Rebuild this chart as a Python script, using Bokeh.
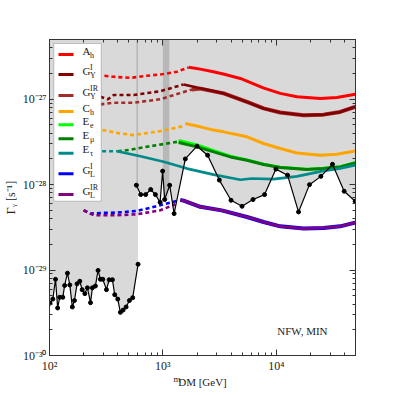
import numpy as np
from bokeh.plotting import figure
from bokeh.models import (LogAxis, LogTicker, CustomJSTickFormatter, Label, LabelSet,
                          BoxAnnotation, ColumnDataSource, Range1d)
from bokeh.embed import file_html
from bokeh.resources import INLINE

X_RANGE = (100, 5e4)
Y_RANGE = (1e-30, 5e-27)

# ---- observed limit (black points), two segments ----
limit_lo_m = [101, 107, 113, 118, 123, 131, 136, 144, 151, 159, 166, 175, 185, 194, 205, 216,
              230, 239, 254, 268, 281, 295, 318, 336, 359, 376, 400, 422, 446, 474, 507, 542, 604]
limit_lo_g = [4.1e-30, 4.57e-30, 7.8e-30, 3.6e-30, 4.8e-30, 4.8e-30, 6.6e-30, 9.2e-30, 6.7e-30,
              3.7e-30, 4.4e-30, 6.9e-30, 7.4e-30, 5.9e-30, 5.3e-30, 6.2e-30, 4.15e-30, 6.2e-30,
              6.5e-30, 9.9e-30, 7.8e-30, 7.8e-30, 5.9e-30, 7.7e-30, 7.7e-30, 5.15e-30, 4.57e-30,
              3.2e-30, 3.4e-30, 3.7e-30, 4.4e-30, 4.75e-30, 1.17e-29]
limit_hi_m = [584, 637, 705, 781, 859, 945, 995, 1037, 1148, 1256, 1578, 2000, 2481, 3148, 3991,
              4990, 6237, 7890, 9935, 12580, 15720, 19640, 24750, 31330, 39720, 49660]
limit_hi_g = [9.85e-29, 7.65e-29, 7.65e-29, 8.77e-29, 7.65e-29, 6.22e-29, 1.44e-28, 6.69e-29,
              9.85e-29, 4.58e-29, 2.0e-28, 2.82e-28, 2.21e-28, 1.13e-28, 6.56e-29, 5.58e-29,
              6.69e-29, 7.65e-29, 1.52e-28, 1.29e-28, 4.79e-29, 1.0e-28, 1.25e-28, 1.73e-28,
              8.37e-29, 6.39e-29]
# overlap band of the shaded region
band_m = [1000, 1140]
band_bottom = 6.7e-29

# ---- model lines: dotted (low mass) and solid parts ----
Ah_dot_m = [305, 366, 517, 727, 1016, 1333, 1690]
Ah_dot_g = [1.88e-27, 1.83e-27, 1.78e-27, 1.88e-27, 1.97e-27, 2.10e-27, 2.36e-27]
Ah_m = [1690, 2138, 2786, 3413, 4821, 5518, 7681, 10840, 15210, 24430, 34280, 49660]
Ah_g = [2.36e-27, 2.25e-27, 2.10e-27, 1.97e-27, 1.75e-27, 1.63e-27, 1.36e-27, 1.17e-27,
        1.07e-27, 1.02e-27, 1.05e-27, 1.14e-27]

GYI_dot_m = [281, 326, 369, 553, 950, 1524]
GYI_dot_g = [1.07e-27, 9.95e-28, 1.12e-27, 1.12e-27, 1.24e-27, 1.49e-27]
GYI_m = [1524, 2138, 3436, 5518, 7730, 10840, 17400, 26100, 36600, 49660]
GYI_g = [1.49e-27, 1.34e-27, 1.17e-27, 9.3e-28, 7.8e-28, 7.0e-28, 6.5e-28, 6.6e-28, 7.1e-28, 8.15e-28]

GYIR_dot_m = [281, 369, 553, 950, 1807]
GYIR_dot_g = [8.7e-28, 9.1e-28, 9.1e-28, 1.0e-27, 1.30e-27]
GYIR_m = [1807, 2138, 3436, 5518, 7730, 10840, 17400, 26100, 36600, 49660]
GYIR_g = [1.30e-27, 1.33e-27, 1.17e-27, 9.3e-28, 7.8e-28, 7.0e-28, 6.5e-28, 6.6e-28, 7.1e-28, 8.15e-28]

Ch_dot_m = [293, 405, 550, 950, 1516]
Ch_dot_g = [4.35e-28, 4.01e-28, 3.80e-28, 4.23e-28, 4.84e-28]
Ch_m = [1578, 2138, 2803, 3434, 5518, 7730, 10840, 15210, 24430, 34280, 49660]
Ch_g = [5.2e-28, 4.75e-28, 4.35e-28, 4.15e-28, 3.63e-28, 3.03e-28, 2.65e-28, 2.35e-28,
        2.21e-28, 2.27e-28, 2.48e-28]

Ee_m = [1377, 2000, 2803, 3935, 5518, 7730, 10840, 18640, 26100, 36600, 49660]
Ee_g = [3.3e-28, 2.92e-28, 2.5e-28, 2.15e-28, 1.95e-28, 1.73e-28, 1.6e-28, 1.51e-28,
        1.56e-28, 1.62e-28, 1.81e-28]

Emu_dot_m = [400, 500, 776, 1333]
Emu_dot_g = [2.45e-28, 2.55e-28, 2.82e-28, 3.17e-28]
Emu_m = [1377, 2000, 2803, 3935, 5518, 7730, 10840, 18640, 26100, 36600, 49660]
Emu_g = [3.12e-28, 2.77e-28, 2.42e-28, 2.11e-28, 1.93e-28, 1.72e-28, 1.59e-28, 1.50e-28,
         1.55e-28, 1.61e-28, 1.80e-28]

Etau_dot_m = [291, 395]
Etau_dot_g = [2.46e-28, 2.46e-28]
Etau_m = [395, 634, 1016, 1633, 2803, 4821, 6110, 9460, 15210, 26100, 36600, 49660]
Etau_g = [2.46e-28, 2.15e-28, 1.85e-28, 1.54e-28, 1.31e-28, 1.14e-28, 1.18e-28, 1.16e-28,
          1.25e-28, 1.45e-28, 1.55e-28, 1.69e-28]

GLI_dot_m = [200, 230, 281, 395, 593, 950, 1333]
GLI_dot_g = [5.01e-29, 4.58e-29, 4.66e-29, 4.71e-29, 4.92e-29, 5.74e-29, 6.44e-29]
GL_m = [1426, 1524, 2138, 3300, 5518, 7730, 10840, 17400, 26100, 36600, 49660]
GL_g = [6.6e-29, 6.5e-29, 5.5e-29, 5.0e-29, 4.18e-29, 3.65e-29, 3.25e-29, 3.06e-29,
        3.11e-29, 3.25e-29, 3.59e-29]

GLIR_dot_m = [200, 245, 395, 593, 950, 1288]
GLIR_dot_g = [5.01e-29, 4.38e-29, 4.38e-29, 4.50e-29, 5.01e-29, 5.89e-29]

legend_labels = [("A", "h", ""), ("G", "Y", "I"), ("G", "Y", "IR"), ("C", "h", ""),
                 ("E", "e", ""), ("E", "\u03bc", ""), ("E", "\u03c4", ""),
                 ("G", "L", "I"), ("G", "L", "IR")]
legend_colors = ["#ff0000", "#800000", "#a52a2a", "#ffa500", "#00ff00", "#008000",
                 "#008b8b", "#0000ff", "#800080"]

SERIF = "Liberation Serif"
FRAME_W, FRAME_H = 306, 316


def x_at(px):
    """data x at a pixel offset from the frame's left edge"""
    return X_RANGE[0] * (X_RANGE[1] / X_RANGE[0]) ** (px / FRAME_W)


def y_at(px):
    """data y at a pixel offset above the frame's bottom edge"""
    return Y_RANGE[0] * (Y_RANGE[1] / Y_RANGE[0]) ** (px / FRAME_H)


p = figure(x_axis_type="log", y_axis_type="log",
           x_range=Range1d(*X_RANGE), y_range=Range1d(*Y_RANGE),
           frame_width=FRAME_W, frame_height=FRAME_H,
           min_border_left=49, min_border_right=40, min_border_top=39, min_border_bottom=40,
           output_backend="svg", toolbar_location=None)
p.background_fill_color = "white"
p.border_fill_color = "white"
p.outline_line_color = "#333333"
p.xgrid.visible = False
p.ygrid.visible = False

bottom_ax = p.below[0]
left_ax = p.left[0]

sup_code = """
const e = Math.round(Math.log10(tick));
const sup = {"-":"\u207b","0":"\u2070","1":"\u00b9","2":"\u00b2","3":"\u00b3","4":"\u2074",
             "5":"\u2075","6":"\u2076","7":"\u2077","8":"\u2078","9":"\u2079"};
return "10" + String(e).split("").map(c => sup[c]).join("");
"""
fmt = CustomJSTickFormatter(code=sup_code)
empty = CustomJSTickFormatter(code="return '';")

top_ax = LogAxis(ticker=LogTicker(num_minor_ticks=10), formatter=empty)
right_ax = LogAxis(ticker=LogTicker(num_minor_ticks=10), formatter=empty)
p.add_layout(top_ax, "above")
p.add_layout(right_ax, "right")
bottom_ax.ticker = LogTicker(num_minor_ticks=10)
left_ax.ticker = LogTicker(num_minor_ticks=10)
bottom_ax.formatter = fmt
left_ax.formatter = fmt
for ax in [bottom_ax, left_ax, top_ax, right_ax]:
    ax.axis_line_color = "#333333"
    ax.major_tick_line_color = "#333333"
    ax.minor_tick_line_color = "#333333"
    ax.major_tick_in = 6
    ax.major_tick_out = 0
    ax.minor_tick_in = 3
    ax.minor_tick_out = 0
    ax.major_label_text_font = SERIF
    ax.major_label_text_font_size = "12px"
    ax.major_label_text_color = "#222222"
    ax.axis_label_text_font = SERIF
    ax.axis_label_text_font_style = "normal"
    ax.axis_label_text_color = "#222222"
for ax in [top_ax, right_ax]:
    ax.major_label_standoff = 0
    ax.major_label_text_font_size = "1px"
bottom_ax.major_label_standoff = 3
left_ax.major_label_standoff = 3
left_ax.axis_label = "\u0393\u1d67 [s\u207b\u00b9]"
left_ax.axis_label_text_font_size = "12px"
left_ax.axis_label_standoff = 2
bottom_ax.axis_label = "DM [GeV]"
bottom_ax.axis_label_text_font_size = "11px"
bottom_ax.axis_label_standoff = 0

# shaded excluded region (two overlapping fills)
top = Y_RANGE[1] * 10
p.patch(limit_lo_m + [limit_lo_m[-1], limit_lo_m[0]], limit_lo_g + [top, top],
        fill_color="black", fill_alpha=0.15, line_color=None)
p.patch(limit_hi_m + [limit_hi_m[-1], limit_hi_m[0]], limit_hi_g + [top, top],
        fill_color="black", fill_alpha=0.15, line_color=None)
p.quad(left=[band_m[0]], right=[band_m[1]], bottom=[band_bottom], top=[top],
       fill_color="black", fill_alpha=0.15, line_color=None)

DASH = "4 3"
DW = 2.6
SW = 3.0
for m, g, c in [(Ah_dot_m, Ah_dot_g, "#ff0000"), (GYI_dot_m, GYI_dot_g, "#800000"),
                (GYIR_dot_m, GYIR_dot_g, "#a52a2a"), (Ch_dot_m, Ch_dot_g, "#ffa500"),
                (Emu_dot_m, Emu_dot_g, "#008000"), (Etau_dot_m, Etau_dot_g, "#008b8b"),
                (GLI_dot_m, GLI_dot_g, "#0000ff"), (GLIR_dot_m, GLIR_dot_g, "#800080")]:
    p.line(m, g, line_color=c, line_width=DW, line_dash=DASH)

p.line(Ah_m, Ah_g, line_color="#ff0000", line_width=SW)
p.line(GYIR_m, GYIR_g, line_color="#a52a2a", line_width=4.0)
p.line(GYI_m, GYI_g, line_color="#800000", line_width=2.6)
p.line(Ch_m, Ch_g, line_color="#ffa500", line_width=SW)
p.line(Ee_m, Ee_g, line_color="#00ff00", line_width=SW)
p.line(Emu_m, Emu_g, line_color="#008000", line_width=SW)
p.line(Etau_m, Etau_g, line_color="#008b8b", line_width=2.6)
p.line(GL_m, GL_g, line_color="#0000ff", line_width=4.0)
p.line(GL_m, GL_g, line_color="#800080", line_width=2.8)

for m, g in [(limit_lo_m, limit_lo_g), (limit_hi_m, limit_hi_g)]:
    p.line(m, g, line_color="black", line_width=1.2)
    p.scatter(m, g, size=4, fill_color="black", line_color="black")

# ---- legend (drawn manually for sub/superscripts) ----
leg_rows_y = [301, 281, 260, 244, 230.7, 216.7, 202.3, 181.7, 161]
p.add_layout(BoxAnnotation(left=4.3, right=51.7, bottom=154.3, top=312,
                           left_units="screen", right_units="screen",
                           bottom_units="screen", top_units="screen",
                           fill_color="white", fill_alpha=1.0,
                           line_color="#555555", line_width=1))
for y, c in zip(leg_rows_y, legend_colors):
    p.add_layout(BoxAnnotation(left=9, right=24, bottom=y - 1.5, top=y + 1.5,
                               left_units="screen", right_units="screen",
                               bottom_units="screen", top_units="screen",
                               fill_color=c, fill_alpha=1.0, line_color=None))
main_src = ColumnDataSource(dict(x=[33] * 9, y=leg_rows_y, t=[l[0] for l in legend_labels]))
sub_src = ColumnDataSource(dict(x=[40.5] * 9, y=[y - 3 for y in leg_rows_y],
                                t=[l[1] for l in legend_labels]))
sup_idx = [i for i, l in enumerate(legend_labels) if l[2]]
sup_src = ColumnDataSource(dict(x=[40.5] * len(sup_idx), y=[leg_rows_y[i] + 5 for i in sup_idx],
                                t=[legend_labels[i][2] for i in sup_idx]))
for src, fs in [(main_src, "11px"), (sub_src, "8px"), (sup_src, "8px")]:
    p.add_layout(LabelSet(x="x", y="y", text="t", source=src, x_units="screen", y_units="screen",
                          text_font=SERIF, text_font_size=fs, text_color="#222222",
                          text_baseline="alphabetic", text_align="left"))

lab_kw = dict(text_font=SERIF, text_color="#222222", text_baseline="alphabetic", text_align="left")
p.add_layout(Label(x=227.7, y=25, x_units="screen", y_units="screen", text="NFW, MIN",
                   text_font_size="11px", **lab_kw))

# the "m" of m_DM sits left of the axis title; placed from a side panel so it is not clipped
p.add_layout(Label(x=x_at(124), y=y_at(-23), text="m", text_font_size="9px", **lab_kw), "above")

open("out.html", "w").write(file_html(p, INLINE))
